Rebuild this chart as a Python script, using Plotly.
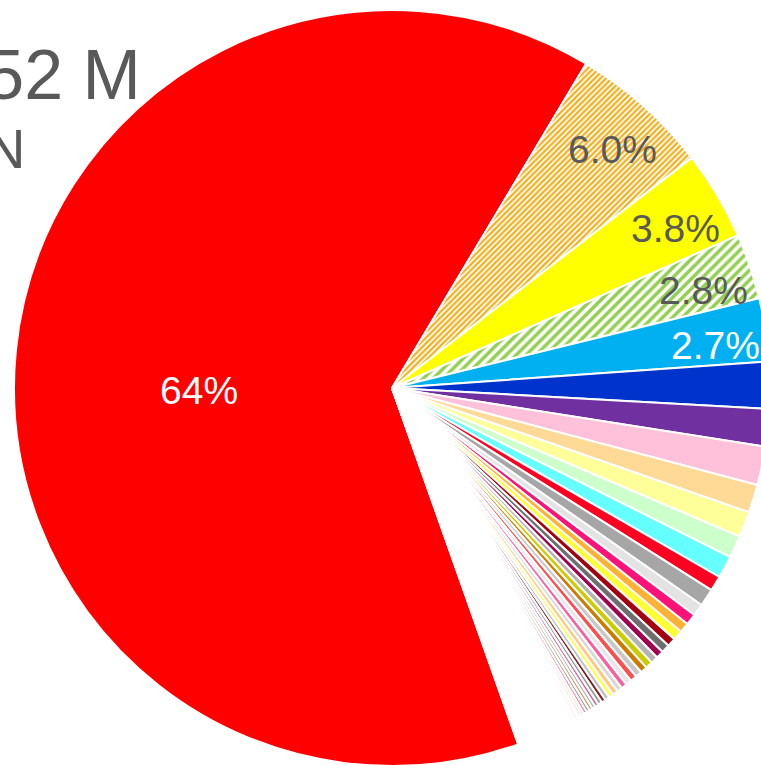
import math
import plotly.graph_objects as go

# Share of each segment (%), largest first, then the long tail
shares = [64.0, 6.0, 3.8, 2.8, 2.7, 2.0, 1.6, 1.65, 1.2, 1.1, 0.95, 0.95, 0.65, 0.75,
          0.52, 0.48, 0.42, 0.42, 0.37, 0.36, 0.33, 0.31, 0.31, 0.29, 0.28, 0.28,
          0.25, 0.25, 0.23, 0.23, 0.20, 0.19, 0.18, 0.17, 0.16, 0.15, 0.14, 0.14,
          0.13, 0.12, 0.11, 0.10, 0.10, 0.09, 0.09, 0.08, 0.08]
tail_shares = [0.06, 0.06, 0.06, 0.06, 0.06, 0.06, 0.06, 0.06, 0.06, 0.06,
               0.05, 0.05, 0.05, 0.05, 0.05, 0.05, 0.05, 0.05, 0.05, 0.05, 0.05,
               0.05, 0.05, 0.05, 0.05, 0.05, 0.05, 0.05, 0.05, 0.05, 0.05, 0.05,
               0.04, 0.04, 0.04, 0.04, 0.04, 0.04, 0.04, 0.04, 0.04, 0.04, 0.04,
               0.04, 0.04, 0.04, 0.03]

colors = ["#ff0000", "#f0b020", "#ffff00", "#92d050", "#00b0f0", "#0033cc", "#7030a0",
          "#ffc1da", "#ffd996", "#ffff99", "#ccffcc", "#66ffff", "#ff0022", "#a6a6a6",
          "#e3e3e3", "#ff1177", "#ffb133", "#ffff33", "#a50010", "#6e6e6e", "#a3004f",
          "#b3b3b3", "#cccc00", "#cc7a00", "#c8c8c8", "#ff4d4d", "#e6e6e6", "#ff5c9d",
          "#d9d9d9", "#ffc880", "#ffff4d", "#bfbfbf", "#7f1f1f", "#999999", "#cc6e99",
          "#b5b5b5", "#c89664", "#a0a0a0", "#ff6f8f", "#d4d4d4", "#ffd0a0", "#e8e8e8",
          "#ffb6c8", "#f0e68c", "#dddddd", "#ffc0cb", "#fff0b0"]
tail_palette = ["#ffc0cb", "#fff0b0", "#e0e0e0", "#ffd8a8", "#f4c2d6", "#fffacd"]

# Hatched segments: index -> (pattern tile size, stripe solidity)
hatched = {1: (4, 0.55), 3: (7, 0.5)}

# Segments that get a percentage label, with the label colour
label_colors = {0: "white", 1: "#595959", 2: "#595959", 3: "#595959", 4: "white"}

all_shares = shares + tail_shares
all_colors = colors + [tail_palette[i % len(tail_palette)] for i in range(len(tail_shares))]
names = ["Segment %d" % (i + 1) for i in range(len(all_shares))]

shapes = ["/" if i in hatched else "" for i in range(len(all_shares))]
sizes = [hatched[i][0] if i in hatched else 8 for i in range(len(all_shares))]
solid = [hatched[i][1] if i in hatched else 0.3 for i in range(len(all_shares))]

# Figure geometry (px)
FIG_W, FIG_H = 770, 766
M_L, M_T = 14, 10
PLOT = 756
START = 160.5  # degrees clockwise from 12 o'clock where the first segment begins
LABEL_R = 0.865
LABEL_NUDGE = 0.8  # degrees
LABEL_FONT = "Liberation Sans, Arial, sans-serif"

fig = go.Figure(go.Pie(
    labels=names,
    values=all_shares,
    sort=False,
    direction="clockwise",
    rotation=START,
    textinfo="none",
    hoverinfo="label+percent",
    marker=dict(
        colors=all_colors,
        line=dict(color="white", width=2),
        pattern=dict(shape=shapes, size=sizes, solidity=solid,
                     bgcolor="white", fillmode="replace"),
    ),
    domain=dict(x=[0, 1], y=[0, 1]),
    showlegend=False,
))

total = sum(all_shares)
cx, cy, R = M_L + PLOT / 2, M_T + PLOT / 2, PLOT / 2


def to_paper(px, py):
    return (px - M_L) / PLOT, 1 - (py - M_T) / PLOT


def fmt_pct(share):
    p = 100 * share / total
    return ("%.0f%%" % p) if p >= 10 else ("%.1f%%" % p)


annotations = []
cum = 0.0
for i, v in enumerate(all_shares):
    mid = math.radians(START + LABEL_NUDGE + 360 * (cum + v / 2) / total)
    cum += v
    if i not in label_colors:
        continue
    if v / total > 0.5:
        px, py = cx - 0.51 * R, cy + 2
    else:
        r = LABEL_R * R
        px, py = cx + r * math.sin(mid), cy - r * math.cos(mid) + 3
    x, y = to_paper(px, py)
    annotations.append(dict(
        x=x, y=y, xref="paper", yref="paper", text=fmt_pct(v),
        showarrow=False, xanchor="center", yanchor="middle",
        font=dict(family=LABEL_FONT, size=39, color=label_colors[i]),
    ))

# Headline total and unit
for txt, rx, ry, fs in [("1,052 M", 143, 74.5, 70), ("N", 27, 148, 56)]:
    x, y = to_paper(rx, ry)
    annotations.append(dict(
        x=x, y=y, xref="paper", yref="paper", text=txt, showarrow=False,
        xanchor="right", yanchor="middle",
        font=dict(family=LABEL_FONT, size=fs, color="#595959"),
    ))

fig.update_layout(
    width=FIG_W, height=FIG_H,
    margin=dict(l=M_L, r=FIG_W - M_L - PLOT, t=M_T, b=FIG_H - M_T - PLOT, pad=0),
    paper_bgcolor="white", plot_bgcolor="white",
    annotations=annotations,
)

fig.write_html("out.html")
